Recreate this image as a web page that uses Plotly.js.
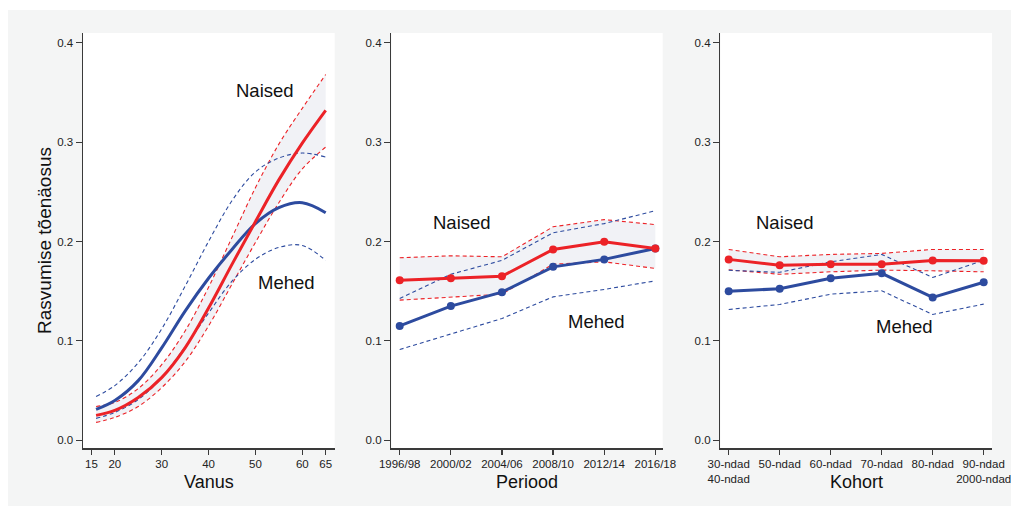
<!DOCTYPE html>
<html><head><meta charset="utf-8">
<script src="https://cdn.plot.ly/plotly-3.0.1.min.js"></script>
<style>
html,body{margin:0;padding:0;background:#ffffff;}
#chart{position:absolute;left:8px;top:10px;width:1003px;height:496px;}
</style></head>
<body><div id="chart"></div>
<script>
// ---- Panel 1: Vanus (age) ----
const ages = [16, 20, 25, 30, 35, 40, 45, 50, 55, 60, 65];
const ageTicks = [15, 20, 30, 40, 50, 60, 65];
const menAge      = [0.031, 0.040, 0.060, 0.093, 0.130, 0.163, 0.192, 0.218, 0.234, 0.239, 0.229];
const menAgeHi    = [0.044, 0.055, 0.078, 0.112, 0.155, 0.200, 0.241, 0.270, 0.284, 0.289, 0.285];
const menAgeLo    = [0.022, 0.028, 0.041, 0.063, 0.094, 0.128, 0.160, 0.182, 0.194, 0.196, 0.181];
const womenAge    = [0.025, 0.030, 0.043, 0.063, 0.093, 0.133, 0.177, 0.220, 0.262, 0.299, 0.332];
const womenAgeHi  = [0.034, 0.038, 0.052, 0.076, 0.110, 0.154, 0.204, 0.254, 0.298, 0.334, 0.368];
const womenAgeLo  = [0.018, 0.023, 0.034, 0.053, 0.079, 0.115, 0.157, 0.199, 0.239, 0.273, 0.295];

// ---- Panel 2: Periood ----
const periods = ["1996/98", "2000/02", "2004/06", "2008/10", "2012/14", "2016/18"];
const menPer      = [0.115, 0.135, 0.149, 0.1745, 0.182, 0.193];
const menPerHi    = [0.1427, 0.167, 0.181, 0.2088, 0.218, 0.231];
const menPerLo    = [0.0913, 0.1067, 0.1225, 0.1443, 0.1517, 0.1604];
const womenPer    = [0.161, 0.163, 0.165, 0.192, 0.1997, 0.193];
const womenPerHi  = [0.1836, 0.1856, 0.1846, 0.2148, 0.222, 0.217];
const womenPerLo  = [0.141, 0.1437, 0.147, 0.1772, 0.1795, 0.1729];

// ---- Panel 3: Kohort ----
const cohorts = ["30-ndad<br>40-ndad", "50-ndad", "60-ndad", "70-ndad", "80-ndad", "90-ndad<br>2000-ndad"];
const menCoh      = [0.150, 0.1524, 0.163, 0.168, 0.1437, 0.159];
const menCohHi    = [0.171, 0.169, 0.1796, 0.187, 0.1638, 0.181];
const menCohLo    = [0.1316, 0.1366, 0.147, 0.1504, 0.1266, 0.137];
const womenCoh    = [0.182, 0.176, 0.177, 0.177, 0.181, 0.1806];
const womenCohHi  = [0.192, 0.1846, 0.187, 0.188, 0.192, 0.192];
const womenCohLo  = [0.1715, 0.167, 0.1695, 0.1712, 0.1705, 0.1695];

const yTicks = [0, 0.1, 0.2, 0.3, 0.4];
const yTickText = ["0.0", "0.1", "0.2", "0.3", "0.4"];
const labelWomen = "Naised", labelMen = "Mehed";
const xTitles = ["Vanus", "Periood", "Kohort"];
const yTitle = "Rasvumise tõenäosus";

const RED = "#ec2227", BLUE = "#2d4b9f", FILL = "#f1f2f6";
const idx = periods.map((_, i) => i);

function panel(x, lo, hi, mLo, mHi, m, w, xa, ya, spline, markers) {
  const shape = spline ? "spline" : "linear";
  const dash = {width: 1.1, dash: "4px,3px", shape: shape, smoothing: 1};
  const solid = (c) => ({color: c, width: 3, shape: shape, smoothing: 1});
  return [
    {x: x, y: lo, xaxis: xa, yaxis: ya, mode: "lines", line: Object.assign({color: RED}, dash), hoverinfo: "skip"},
    {x: x, y: hi, xaxis: xa, yaxis: ya, mode: "lines", fill: "tonexty", fillcolor: FILL, line: Object.assign({color: RED}, dash), hoverinfo: "skip"},
    {x: x, y: mHi, xaxis: xa, yaxis: ya, mode: "lines", line: Object.assign({color: BLUE}, dash), hoverinfo: "skip"},
    {x: x, y: mLo, xaxis: xa, yaxis: ya, mode: "lines", line: Object.assign({color: BLUE}, dash), hoverinfo: "skip"},
    {x: x, y: m, xaxis: xa, yaxis: ya, mode: markers ? "lines+markers" : "lines", line: solid(BLUE), marker: {color: BLUE, size: 8}},
    {x: x, y: w, xaxis: xa, yaxis: ya, mode: markers ? "lines+markers" : "lines", line: solid(RED), marker: {color: RED, size: 8}}
  ];
}

const data = [].concat(
  panel(ages, womenAgeLo, womenAgeHi, menAgeLo, menAgeHi, menAge, womenAge, "x", "y", true, false),
  panel(idx, womenPerLo, womenPerHi, menPerLo, menPerHi, menPer, womenPer, "x2", "y2", false, true),
  panel(idx, womenCohLo, womenCohHi, menCohLo, menCohHi, menCoh, womenCoh, "x3", "y3", false, true)
);

const FONT = "Liberation Sans, Arial, Helvetica, sans-serif";
function xax(domain, range, tickvals, ticktext, anchor) {
  return {domain: domain, range: range, tickvals: tickvals, ticktext: ticktext, anchor: anchor,
    showline: true, linecolor: "#3a3a3a", linewidth: 1.5, ticks: "outside", ticklen: 5, tickwidth: 1.2, tickcolor: "#3a3a3a",
    showgrid: false, zeroline: false, tickfont: {size: 11.5, color: "#222", family: FONT},
    ticklabeloverflow: "allow", fixedrange: true};
}
function yax(anchor, title) {
  return {domain: [0, 1], range: [-0.0078, 0.4098], tickvals: yTicks, ticktext: yTickText, anchor: anchor,
    showline: true, linecolor: "#3a3a3a", linewidth: 1.5, ticks: "outside", ticklen: 6, tickwidth: 1.2, tickcolor: "#3a3a3a",
    showgrid: false, zeroline: false, tickfont: {size: 11.5, color: "#222", family: FONT},
    title: {text: title, font: {size: 19, color: "#111", family: FONT}, standoff: 0}, fixedrange: true};
}

const annFont = {size: 18.5, color: "#111", family: FONT};
function ann(x, y, xr, yr, t) { return {x: x, y: y, xref: xr, yref: yr, text: t, showarrow: false, font: annFont, xanchor: "center", yanchor: "middle"}; }
function xtitle(xr, t) { return {x: 0.5, y: -0.052, xref: xr + " domain", yref: "paper", text: t, showarrow: false, font: {size: 18, color: "#111", family: FONT}, xanchor: "center", yanchor: "top"}; }

const layout = {
  width: 1003, height: 496,
  margin: {l: 75.3, r: 18.7, t: 23, b: 58.3},
  paper_bgcolor: "#f4f5f5", plot_bgcolor: "#ffffff",
  showlegend: false,
  font: {family: FONT},
  xaxis: xax([0, 0.2769], [13.21, 66.92], ageTicks, ageTicks.map(String), "y"),
  xaxis2: xax([0.3393, 0.6377], [-0.162, 5.143], idx, periods, "y2"),
  xaxis3: xax([0.7012, 1], [-0.163, 5.163], idx, cohorts, "y3"),
  yaxis: yax("x", yTitle),
  yaxis2: yax("x2", ""),
  yaxis3: yax("x3", ""),
  annotations: [
    ann(52.0, 0.3515, "x", "y", labelWomen),
    ann(56.7, 0.159, "x", "y", labelMen),
    ann(1.21, 0.2195, "x2", "y2", labelWomen),
    ann(3.84, 0.119, "x2", "y2", labelMen),
    ann(1.10, 0.2195, "x3", "y3", labelWomen),
    ann(3.45, 0.114, "x3", "y3", labelMen),
    xtitle("x", xTitles[0]),
    xtitle("x2", xTitles[1]),
    xtitle("x3", xTitles[2])
  ]
};
Plotly.newPlot("chart", data, layout, {displayModeBar: false, staticPlot: true});
</script></body></html>
